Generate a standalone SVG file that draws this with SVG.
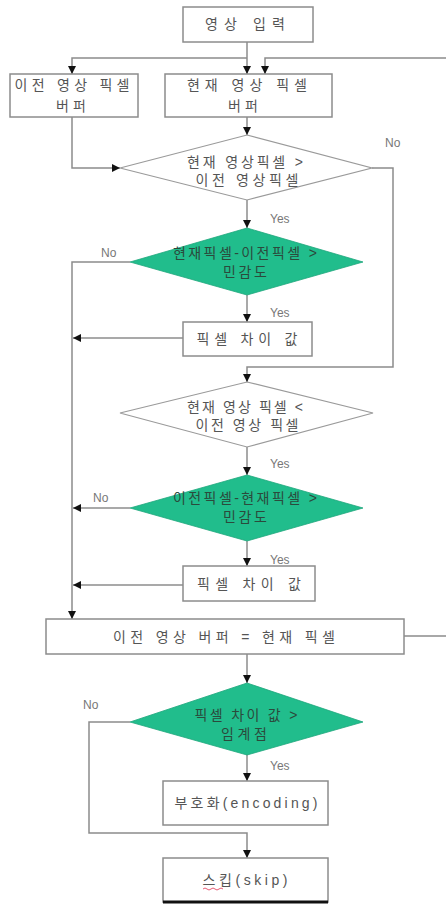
<svg xmlns="http://www.w3.org/2000/svg" width="446" height="904" viewBox="0 0 446 904">
<defs>
<marker id="ah" viewBox="0 0 10 10" refX="10" refY="5" markerWidth="8" markerHeight="8" markerUnits="userSpaceOnUse" orient="auto"><path d="M0,0 L10,5 L0,10 z" fill="#111"/></marker>
<style>
.box{fill:#fff;stroke:#8c8c8c;stroke-width:1.5}
.dw{fill:#fff;stroke:#9a9a9a;stroke-width:1.2}
.dg{fill:#21bd8c;stroke:#1fa77c;stroke-width:0.8}
.t{font-family:"Liberation Sans","Noto Sans CJK KR",sans-serif;font-size:14px;fill:#555;text-anchor:middle}
.tg{font-family:"Liberation Sans","Noto Sans CJK KR",sans-serif;font-size:14px;fill:#2b4a3c;text-anchor:middle}
.lb{font-family:"Liberation Sans","Noto Sans CJK KR",sans-serif;font-size:12px;fill:#777}
.c{fill:none;stroke:#8c8c8c;stroke-width:1.5}
.ca{fill:none;stroke:#8c8c8c;stroke-width:1.5;marker-end:url(#ah)}
</style>
</defs>
<g id="connectors">
<path class="ca" d="M247,42 V74"/>
<path class="ca" d="M247,58 H72 V74"/>
<path class="ca" d="M404,636 H452 V58 H265 V74"/>
<path class="ca" d="M247,117 V135"/>
<path class="ca" d="M72,117 V168 H120"/>
<path class="ca" d="M247,200 V228"/>
<path class="ca" d="M372,168 H393 V367 H247 V382"/>
<path class="ca" d="M130,262 H72 V619"/>
<path class="ca" d="M247,295 V322"/>
<path class="ca" d="M183,338 H73"/>
<path class="ca" d="M247,447 V475"/>
<path class="ca" d="M130,508 H73"/>
<path class="ca" d="M247,541 V566"/>
<path class="ca" d="M183,585 H73"/>
<path class="ca" d="M247,654 V683"/>
<path class="ca" d="M247,753 V781"/>
<path class="ca" d="M130,722 H89 V833 H247 V858"/>
<text class="lb" x="385" y="147">No</text>
<text class="lb" x="101" y="257">No</text>
<text class="lb" x="93" y="502">No</text>
<text class="lb" x="83" y="709">No</text>
<text class="lb" x="270" y="223">Yes</text>
<text class="lb" x="270" y="317">Yes</text>
<text class="lb" x="270" y="468">Yes</text>
<text class="lb" x="270" y="564">Yes</text>
<text class="lb" x="270" y="770">Yes</text>
</g>
<g id="input">
<rect class="box" x="183" y="7" width="130" height="35"/>
<text class="t" x="245" y="29" textLength="80" lengthAdjust="spacing">영상 입력</text>
</g>
<g id="prev-buffer">
<rect class="box" x="10" y="74" width="128" height="43"/>
<text class="t" x="72" y="90" textLength="115" lengthAdjust="spacing">이전 영상 픽셀</text>
<text class="t" x="71" y="111" textLength="30" lengthAdjust="spacing">버퍼</text>
</g>
<g id="cur-buffer">
<rect class="box" x="165" y="74" width="167" height="43"/>
<text class="t" x="247" y="90" textLength="120" lengthAdjust="spacing">현재 영상 픽셀</text>
<text class="t" x="243" y="111" textLength="30" lengthAdjust="spacing">버퍼</text>
</g>
<g id="cond1">
<polygon class="dw" points="247,135 372,168 247,200 120,168"/>
<text class="t" x="245" y="167" textLength="116" lengthAdjust="spacing">현재 영상픽셀 &gt;</text>
<text class="t" x="247" y="185" textLength="103" lengthAdjust="spacing">이전 영상픽셀</text>
</g>
<g id="cond2">
<polygon class="dg" points="247,228 363,262 247,295 130,262"/>
<text class="tg" x="245" y="258" textLength="144" lengthAdjust="spacing">현재픽셀-이전픽셀 &gt;</text>
<text class="tg" x="245" y="277" textLength="44" lengthAdjust="spacing">민감도</text>
</g>
<g id="diff1">
<rect class="box" x="183" y="322" width="129" height="34"/>
<text class="t" x="247" y="344" textLength="101" lengthAdjust="spacing">픽셀 차이 값</text>
</g>
<g id="cond3">
<polygon class="dw" points="247,382 373,413 247,447 120,413"/>
<text class="t" x="245" y="412" textLength="116" lengthAdjust="spacing">현재 영상 픽셀 &lt;</text>
<text class="t" x="247" y="430" textLength="103" lengthAdjust="spacing">이전 영상 픽셀</text>
</g>
<g id="cond4">
<polygon class="dg" points="247,475 363,508 247,541 130,508"/>
<text class="tg" x="245" y="503" textLength="144" lengthAdjust="spacing">이전픽셀-현재픽셀 &gt;</text>
<text class="tg" x="245" y="522" textLength="44" lengthAdjust="spacing">민감도</text>
</g>
<g id="diff2">
<rect class="box" x="183" y="566" width="132" height="35"/>
<text class="t" x="249" y="589" textLength="104" lengthAdjust="spacing">픽셀 차이 값</text>
</g>
<g id="update">
<rect class="box" x="46" y="619" width="358" height="35"/>
<text class="t" x="224" y="642" textLength="222" lengthAdjust="spacing">이전 영상 버퍼 = 현재 픽셀</text>
</g>
<g id="cond5">
<polygon class="dg" points="247,683 363,722 247,755 130,722"/>
<text class="tg" x="246" y="720" textLength="103" lengthAdjust="spacing">픽셀 차이 값 &gt;</text>
<text class="tg" x="244" y="739" textLength="46" lengthAdjust="spacing">임계점</text>
</g>
<g id="encode">
<rect class="box" x="163" y="781" width="165" height="44"/>
<text class="t" x="246" y="808" textLength="143" lengthAdjust="spacing">부호화(encoding)</text>
</g>
<g id="skip">
<rect class="box" x="163" y="858" width="165" height="44"/>
<line x1="163" y1="902" x2="328" y2="902" stroke="#111" stroke-width="3"/>
<text class="t" x="245" y="885" textLength="85" lengthAdjust="spacing">스킵(skip)</text>
<path d="M203,889 q2,-2 4,0 t4,0 t4,0 t4,0 t4,0" fill="none" stroke="#e03050" stroke-width="0.8"/>
</g>
</svg>
